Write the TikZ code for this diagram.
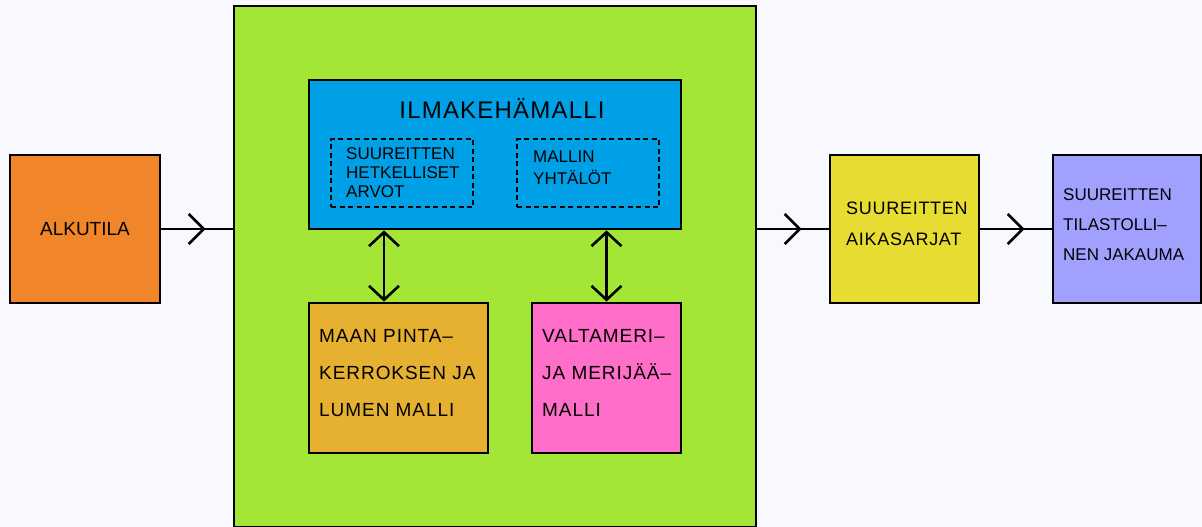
\documentclass[tikz,border=0pt]{standalone}
\usepackage{fontspec}
\setmainfont{Liberation Sans}
\usepackage{tikz}
\usetikzlibrary{arrows.meta,positioning,calc,decorations.markings}

\definecolor{taustaväri}{HTML}{F8F8FF}
\definecolor{alkuoranssi}{HTML}{F0852A}
\definecolor{ilmastovihreä}{HTML}{A3E635}
\definecolor{ilmasininen}{HTML}{00A0E6}
\definecolor{maankulta}{HTML}{E6B030}
\definecolor{merenpinkki}{HTML}{FF6EC8}
\definecolor{aikakeltainen}{HTML}{E6DC32}
\definecolor{jakaumalila}{HTML}{A0A0FF}

\newfontfamily\vaivafont[LetterSpace=5]{Liberation Sans}
\newfontfamily\harvafont[LetterSpace=4]{Liberation Sans}

\tikzset{
    laatikko/.style={draw=black, line width=2.8pt, inner sep=0pt},
    katkoviiva/.style={draw=black, line width=2.6pt, dash pattern=on 5pt off 3.5pt, inner sep=0pt},
    teksti/.style={inner sep=0pt, align=left, anchor=north west},
    virta/.style={line width=2.6pt, postaction={decorate},
        decoration={markings, mark=at position 0.62 with {\arrow{Straight Barb[length=15pt,width=30pt]}}}},
    kaksisuunta/.style={line width=2.6pt, {Straight Barb[length=14pt,width=30pt]}-{Straight Barb[length=14pt,width=30pt]}}
}

\begin{document}
\begin{tikzpicture}[x=1pt, y=-1pt]
    \fill[taustaväri] (0,0) rectangle (1202,527);
    \useasboundingbox (0,0) rectangle (1202,527);

    % Alkutila
    \node[laatikko, fill=alkuoranssi, minimum width=150, minimum height=148,
        font=\fontsize{19}{23}\selectfont] (alku) at (85,229) {ALKUTILA};

    % Ilmastomalli (vihreä)
    \node[laatikko, fill=ilmastovihreä, minimum width=522, minimum height=521] (ilmasto) at (495,266.5) {};

    % Ilmakehämalli
    \node[laatikko, fill=ilmasininen, minimum width=372, minimum height=149] (ilmakeha) at (495,154.5) {};
    \node[inner sep=0pt, anchor=base, font=\vaivafont\fontsize{24}{28}\selectfont] (ilmaotsikko) at (502,118) {ILMAKEHÄMALLI};
    \node[katkoviiva, minimum width=142, minimum height=68] (hetki) at (402,173) {};
    \node[teksti, font=\fontsize{17}{19}\selectfont] (hetkiteksti) at (346,147) {SUUREITTEN\\HETKELLISET\\ARVOT};
    \node[katkoviiva, minimum width=142, minimum height=68] (yhtalot) at (588,173) {};
    \node[teksti, font=\fontsize{17}{21.5}\selectfont] (yhtaloteksti) at (533,151) {MALLIN\\YHTÄLÖT};

    % Maan pinta ja valtameri
    \node[laatikko, fill=maankulta, minimum width=179, minimum height=150] (maa) at (398.5,378) {};
    \node[teksti, font=\vaivafont\fontsize{19}{37}\selectfont] (maateksti) at (319,329) {MAAN PINTA–\\KERROKSEN JA\\LUMEN MALLI};
    \node[laatikko, fill=merenpinkki, minimum width=149, minimum height=150] (meri) at (606.5,378) {};
    \node[teksti, font=\vaivafont\fontsize{19}{37}\selectfont] (meriteksti) at (542,329) {VALTAMERI–\\JA MERIJÄÄ–\\MALLI};

    % Tulokset
    \node[laatikko, fill=aikakeltainen, minimum width=149, minimum height=148] (aika) at (904.5,229) {};
    \node[teksti, font=\harvafont\fontsize{18}{31}\selectfont] (aikateksti) at (846,202) {SUUREITTEN\\AIKASARJAT};
    \node[laatikko, fill=jakaumalila, minimum width=148, minimum height=148] (jakauma) at (1127,229) {};
    \node[teksti, font=\fontsize{17}{30}\selectfont] (jakaumateksti) at (1063,188) {SUUREITTEN\\TILASTOLLI–\\NEN JAKAUMA};

    % Nuolet
    \draw[virta] (alku.east) -- (alku.east -| ilmasto.west);
    \draw[virta] (ilmasto.east |- aika.west) -- (aika.west);
    \draw[virta] (aika.east) -- (jakauma.west);
    \draw[kaksisuunta] ([xshift=-14.5pt]maa.north |- ilmakeha.south) -- ([xshift=-14.5pt]maa.north);
    \draw[kaksisuunta] (meri.north |- ilmakeha.south) -- (meri.north);
\end{tikzpicture}
\end{document}
